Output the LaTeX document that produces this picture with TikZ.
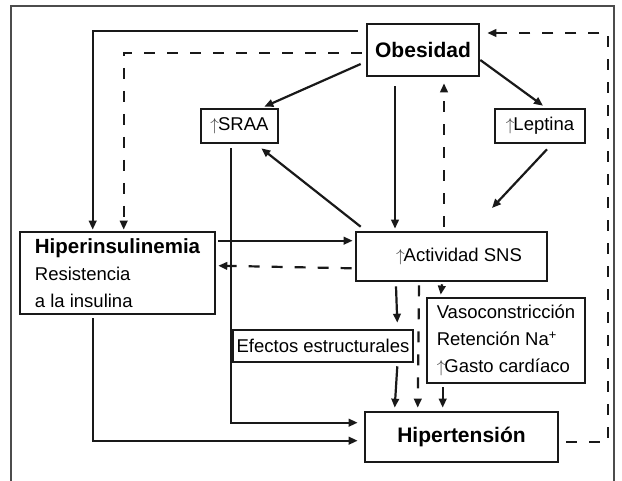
\documentclass[tikz,border=0pt]{standalone}
\usepackage{fontspec}
\setmainfont{Liberation Sans}
\usetikzlibrary{arrows.meta,calc}
\newcommand{\up}{\textcolor{black!75}{$\uparrow$}\kern-1pt}
\begin{document}
\begin{tikzpicture}[x=1pt,y=-1pt,
  box/.style={draw=black!90,line width=2.6pt,inner sep=2pt,font=\fontsize{18.5}{27}\selectfont,align=left},
  bbox/.style={box,font=\fontsize{21}{25}\bfseries},
  arr/.style={line width=2.2pt,draw=black!90,-{Triangle[length=9pt,width=7.5pt]}},
  darr/.style={arr,dash pattern=on 11pt off 12pt},
  frame/.style={draw=black!70,line width=1.1pt}]
\useasboundingbox (0,0) rectangle (622,481);
\draw[frame] (11,481) -- (11,6) -- (614,6) -- (614,481);
% nodes
\node[bbox,minimum width=112pt,minimum height=52pt] (ob) at (423,50) {Obesidad};
\node[box,minimum width=77pt,minimum height=34pt] (sraa) at (239.5,126) {\up SRAA};
\node[box,minimum width=90pt,minimum height=34pt] (lep) at (540,126) {\up Leptina};
\node[box,minimum width=195pt,minimum height=82pt] (hiper) at (117.5,273)
  {{\bfseries\fontsize{20.5}{27}\selectfont Hiperinsulinemia}\\Resistencia\\a la insulina};
\node[box,minimum width=191pt,minimum height=49pt] (act) at (451.5,256.5) {\hspace*{15pt}\up Actividad SNS};
\node[box,minimum width=180pt,minimum height=32pt,inner sep=1pt] (efe) at (323,346) {Efectos estructurales};
\node[box,minimum width=158pt,minimum height=85pt] (vaso) at (506,340.5)
  {Vasoconstricción\\Retención Na\textsuperscript{+}\\\up Gasto cardíaco};
\node[bbox,minimum width=193pt,minimum height=50pt] (hip) at (461.5,437) {Hipertensión};
\coordinate (lepend) at (492,208);
% connectors
\draw[arr] ($(ob.west)+(-8,-19)$) -| ($(hiper.north west)+(74,-1)$);
\draw[darr] ($(ob.west)+(-4,3)$) -| ($(hiper.north west)+(105,-1)$);
\draw[arr] ($(ob.west)+(-5,14)$) -- ($(sraa.north east)+(-15,-1)$);
\draw[arr] ($(ob.east)+(0,10)$) -- ($(lep.north)+(3,-2)$);
\draw[arr] ($(lep.south)+(7,5)$) -- (lepend);
\draw[darr] ($(act.north)+(-7.5,-4)$) -- ($(ob.south)+(21,6)$);
\draw[arr] ($(ob.south)+(-28,9)$) -- ($(act.north)+(-56.5,-2)$);
\draw[arr] ($(act.north west)+(6,-4)$) -- ($(sraa.south east)+(-18,4)$);
\draw[arr] ($(hiper.north east)+(2,10)$) -- ($(act.north west)+(-2,10)$);
\draw[darr] ($(act.south west)+(-3,-14)$) -- ($(hiper.north east)+(2,35)$);
\draw[arr] ($(sraa.south)+(-8.5,4)$) |- ($(hip.north west)+(-6,12)$);
\draw[arr] ($(hiper.south west)+(74,3)$) |- ($(hip.north west)+(-6,30)$);
\draw[arr] ($(act.south)+(-55.5,4)$) -- ($(efe.north east)+(-17,-6)$);
\draw[arr] ($(efe.south east)+(-17,3)$) -- ($(hip.north west)+(31,-3)$);
\draw[darr] ($(act.south)+(-32.5,3)$) -- ($(hip.north west)+(54,-3)$);
\draw[arr] ($(act.south)+(-9.5,2)$) -- ($(vaso.north west)+(15,-2)$);
\draw[arr] ($(vaso.south west)+(17,3)$) -- ($(hip.north west)+(79,-3)$);
\draw[darr] ($(hip.east)+(7,5)$) -| ($(ob.east)+(128,-17)$) -- ($(ob.east)+(7,-17)$);
\end{tikzpicture}
\end{document}
